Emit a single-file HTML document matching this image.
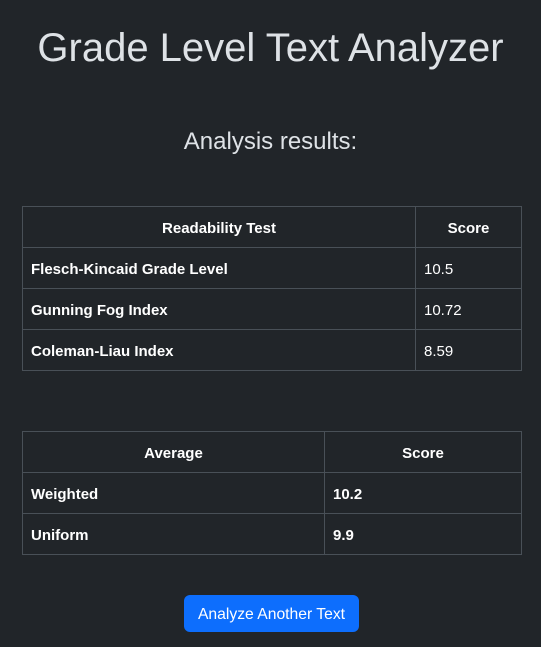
<!DOCTYPE html>
<html><head><meta charset="utf-8"><style>
body{margin:0;background:#212529;width:541px;height:647px;font-family:"Liberation Sans",sans-serif;color:#dee2e6;position:relative;overflow:hidden}
h1{position:absolute;top:24px;left:0;width:541px;margin:0;text-align:center;font-size:40px;font-weight:500;line-height:48px}
h2{position:absolute;top:127px;left:0;width:541px;margin:0;text-align:center;font-size:24px;font-weight:500;line-height:30px}
table{position:absolute;left:22px;width:500px;border-collapse:collapse;color:#fff;font-size:15px}
td,th{border:1px solid #495057;height:41px;padding:3px 8px 0 8px;box-sizing:border-box}
th{text-align:center;font-weight:bold}
td.b{font-weight:bold}
button{position:absolute;left:184px;top:595px;width:175px;height:37px;background:#0d6efd;color:#fff;border:0;border-radius:6px;font-family:"Liberation Sans",sans-serif;font-size:15.7px;padding-top:3px}
</style></head><body>
<h1>Grade Level Text Analyzer</h1>
<h2>Analysis results:</h2>
<table style="top:206px">
<tr><th style="width:393px">Readability Test</th><th>Score</th></tr>
<tr><td class="b">Flesch-Kincaid Grade Level</td><td>10.5</td></tr>
<tr><td class="b">Gunning Fog Index</td><td>10.72</td></tr>
<tr><td class="b">Coleman-Liau Index</td><td>8.59</td></tr>
</table>
<table style="top:431px">
<tr><th style="width:302px">Average</th><th>Score</th></tr>
<tr><td class="b">Weighted</td><td class="b">10.2</td></tr>
<tr><td class="b">Uniform</td><td class="b">9.9</td></tr>
</table>
<button>Analyze Another Text</button>
</body></html>
